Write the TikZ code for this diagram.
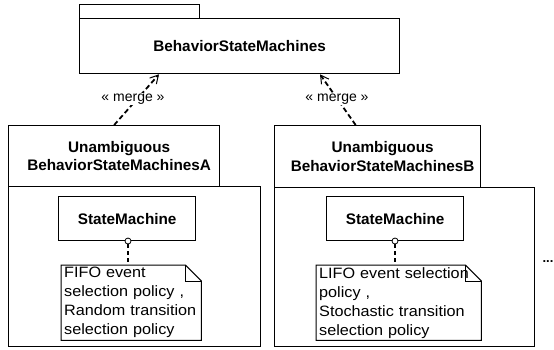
\documentclass[tikz,border=0pt]{standalone}
\usepackage{fontspec}
\setmainfont{Liberation Sans}
\newfontfamily\notefont[FakeStretch=1.08]{Liberation Sans}
\usetikzlibrary{arrows.meta}
\begin{document}
\begin{tikzpicture}[x=1pt,y=-1pt,
  pkgbox/.style={draw=black, line width=1.3pt, inner sep=0pt, anchor=north west, align=center,
                 font=\bfseries\fontsize{15.3}{18.5}\selectfont},
  hlabel/.style={inner sep=0pt, align=center, font=\bfseries\fontsize{15.3}{18.5}\selectfont},
  notebox/.style={inner xsep=3pt, inner ysep=0pt, anchor=north west, align=left,
                 font=\notefont\fontsize{15}{19}\selectfont},
  merge/.style={draw=black, line width=1.8pt, dash pattern=on 5pt off 3pt,
                -{Straight Barb[length=8pt,width=9pt,line width=1pt]}},
  mlabel/.style={fill=white, inner sep=1pt, font=\fontsize{14}{16}\selectfont},
  anchorline/.style={draw=black, line width=1.8pt, dash pattern=on 4pt off 3pt},
  port/.style={circle, draw=black, line width=0.8pt, fill=white, inner sep=0pt, minimum size=6pt}
]
\useasboundingbox (0,0) rectangle (554,349);

% top package
\node[pkgbox, minimum width=120pt, minimum height=14pt] (toptab) at (79,4) {};
\node[pkgbox, minimum width=320pt, minimum height=55pt] (top) at (79,18) {BehaviorStateMachines};

% package A
\node[pkgbox, minimum width=252pt, minimum height=160pt] (bA) at (8,186) {};
\node[pkgbox, minimum width=211pt, minimum height=61pt, fill=white] (hA) at (8,125) {};
\node[hlabel] (hAl) at ([xshift=5pt]hA.center) {Unambiguous\\BehaviorStateMachinesA};
\node[pkgbox, minimum width=137pt, minimum height=44pt] (smA) at (58,196) {StateMachine};
\node[notebox, minimum width=140pt, minimum height=75pt, text width=134pt] (nA) at (61,265)
  {FIFO event\\selection policy ,\\Random transition\\selection policy};
\draw[line width=1pt] (nA.north west) -- ([xshift=-16pt]nA.north east) -- ([yshift=-16pt]nA.north east)
  -- (nA.south east) -- (nA.south west) -- cycle;
\draw[line width=1pt] ([xshift=-16pt]nA.north east) -- ([xshift=-16pt,yshift=-16pt]nA.north east) -- ([yshift=-16pt]nA.north east);
\node[port] (cA) at (128,241) {};
\draw[anchorline] (cA.south) -- (cA.south |- nA.north);

% package B
\node[pkgbox, minimum width=260pt, minimum height=159pt] (bB) at (274,187) {};
\node[pkgbox, minimum width=206pt, minimum height=62pt, fill=white] (hB) at (274,125) {};
\node[hlabel] (hBl) at ([xshift=5pt]hB.center) {Unambiguous\\BehaviorStateMachinesB};
\node[pkgbox, minimum width=137pt, minimum height=44pt] (smB) at (326,196) {StateMachine};
\node[notebox, minimum width=165pt, minimum height=75pt, text width=159pt] (nB) at (316,265)
  {LIFO event selection\\policy ,\\Stochastic transition\\selection policy};
\draw[line width=1pt] (nB.north west) -- ([xshift=-16pt]nB.north east) -- ([yshift=-16pt]nB.north east)
  -- (nB.south east) -- (nB.south west) -- cycle;
\draw[line width=1pt] ([xshift=-16pt]nB.north east) -- ([xshift=-16pt,yshift=-16pt]nB.north east) -- ([yshift=-16pt]nB.north east);
\node[port] (cB) at (395,241) {};
\draw[anchorline] (cB.south) -- (cB.south |- nB.north);

% merge dependencies
\coordinate (tA) at ([xshift=80pt]top.south west);
\coordinate (tB) at ([xshift=241pt]top.south west);
\coordinate (sB) at ([xshift=-22pt]hB.north);
\draw[merge] (hA.north) -- (tA);
\draw[merge] (sB) -- (tB);
\node[mlabel] (mA) at (133,99) {« merge »};
\node[mlabel] (mB) at (337,99) {« merge »};

% ellipsis
\node[font=\bfseries\fontsize{13}{13}\selectfont, inner sep=0pt] (dots) at (548,262) {...};
\end{tikzpicture}
\end{document}
